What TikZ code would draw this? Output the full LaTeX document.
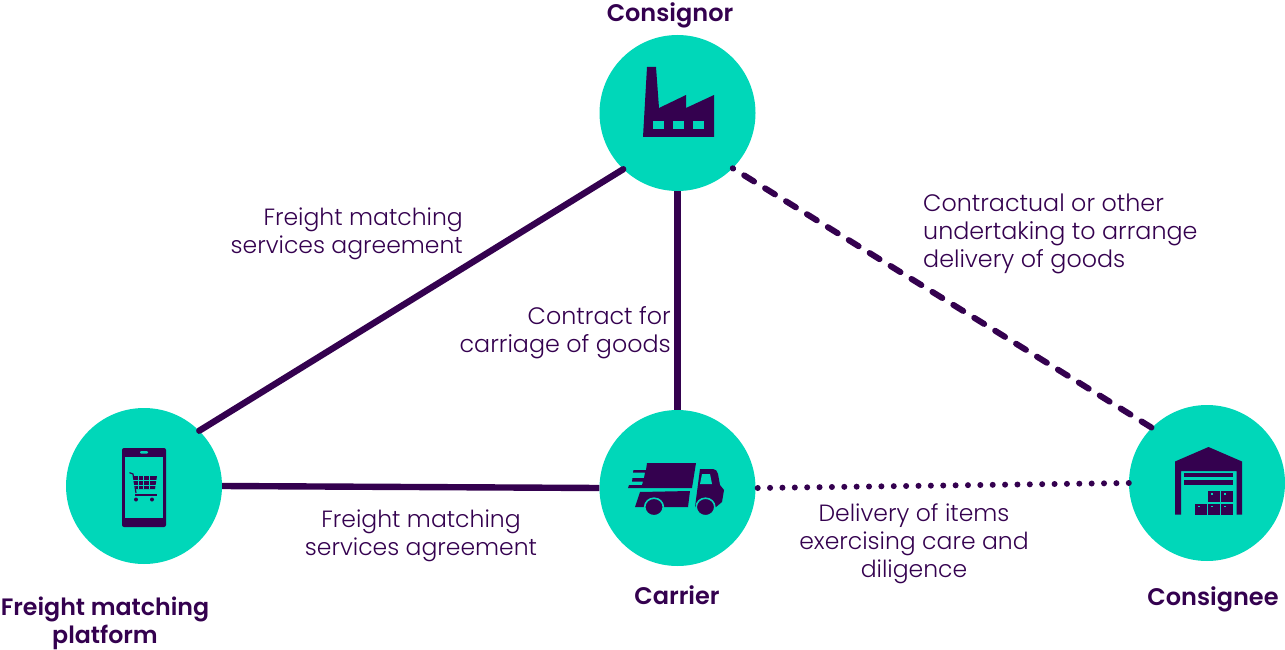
\documentclass[tikz,border=0pt]{standalone}
\usepackage{fontspec}
\setmainfont{Poppins}[UprightFont=* Light,BoldFont=* SemiBold]
\definecolor{teal}{HTML}{00D7B9}
\definecolor{ink}{HTML}{34014F}
\tikzset{
  hub/.style={circle,fill=teal,minimum size=156pt,inner sep=0pt},
  link/.style={draw=ink,line width=6.4pt,line cap=round},
  flatlink/.style={draw=ink,line width=6.4pt,line cap=butt},
  dashlink/.style={link,line width=6pt,dash pattern=on 11.6pt off 13pt,dash phase=11.2pt},
  dotlink/.style={link,line width=6pt,dash pattern=on 0pt off 12.37pt},
  lbl/.style={text=ink,font=\fontsize{23.5}{28}\selectfont,inner sep=0pt,align=center},
  lblwide/.style={lbl,font=\fontsize{23.8}{28}\selectfont},
  head/.style={text=ink,font=\fontsize{24}{28}\selectfont\bfseries,inner sep=0pt,align=center},
  cut/.style={fill=teal,draw=none},
  wheel/.style={fill=ink,draw=teal,line width=1.6pt}
}
\begin{document}
\begin{tikzpicture}[x=1pt,y=-1pt]
\useasboundingbox (0,0) rectangle (1285,650);
\node[hub] (cons) at (677.5,113) {};
\node[hub] (carr) at (677.5,488) {};
\node[hub] (plat) at (144,486) {};
\node[hub] (dest) at (1207,483) {};
\draw[link] (plat.45) -- (cons.226);
\draw[flatlink] (cons.south) -- (carr.north);
\draw[flatlink] (plat.east) -- (carr.west);
\draw[dashlink] (cons.-45) -- (dest.135);
\draw[dotlink] ([xshift=2pt]carr.east) -- (dest.west);
% factory
\fill[ink] (647,67) -- (656,67) -- (659,108) -- (686,95) -- (686,108) -- (714,95) -- (714,137) -- (643,137) -- cycle;
\foreach \x in {653,673,693} \fill[cut] (\x,121) rectangle ++(11,8);
% truck
\fill[ink] (647,463) -- (696,463) -- (692,488) -- (628,488) -- (629,485) -- (642,485) -- (643,481.5) -- (632,481.5) -- (632.5,478) -- (644,478) -- (645,472.5) -- (633,472.5) -- (633.5,470) -- (646,470) -- cycle;
\fill[ink] (640,492) -- (690,491) -- (688,507) -- (664,507) .. controls (662,495) and (650,495) .. (646,507) -- (635,507) -- cycle;
\fill[ink] (700,469) -- (713,469) .. controls (716,469) and (717,471) .. (718,474) -- (720,485) -- (724,490) -- (722,502) -- (716,507) -- (695,507) -- cycle;
\fill[cut] (702,474) -- (710,474) -- (712,484) -- (700,484) -- cycle;
\draw[wheel] (654,507) ellipse (9.3pt and 8.8pt);
\draw[wheel] (705.5,507) ellipse (9.3pt and 8.8pt);
% phone
\fill[ink,rounded corners=2pt] (122,448) rectangle (166,527);
\fill[cut] (125,457) rectangle (163,518);
\fill[cut,rounded corners=1pt] (140,451) rectangle (148,453.5);
\draw[ink,line width=1.2pt] (129.5,472.7) -- (133,474) -- (136,493);
\fill[ink] (133,476) -- (157,476) -- (155,489) -- (136,489) -- cycle;
\foreach \x in {138.5,143.5,149} \draw[teal,line width=.6pt] (\x,476) -- (\x,489);
\foreach \y in {480.5,485} \draw[teal,line width=.6pt] (133,\y) -- (157,\y);
\fill[ink] (135,493.5) rectangle (157,496);
\fill[ink] (136,499.5) circle (2pt) (152,499.5) circle (2pt);
% warehouse
\fill[ink] (1175,461.5) -- (1208.5,447) -- (1242,461.5) -- (1242,514.5) -- (1236.5,514.5) -- (1236.5,471) -- (1181,471) -- (1181,514.5) -- (1175,514.5) -- cycle;
\fill[ink] (1184,473) rectangle (1233,477);
\fill[ink] (1184,480) rectangle (1233,485);
\foreach \x/\y in {1208/491,1221/491,1195/503.5,1208/503.5,1221/503.5} {
  \fill[ink] (\x,\y) rectangle ++(12,11);
  \fill[teal] (\x+3,\y+2) rectangle ++(2,1.5);
}
% labels
\node[lbl,anchor=east,align=right] (t1) at (463,234) {Freight matching\\services agreement};
\node[lblwide,anchor=east,align=right] (t2) at (671,333) {Contract for\\carriage of goods};
\node[lblwide,anchor=west,align=left] (t3) at (923,234) {Contractual or other\\undertaking to arrange\\delivery of goods};
\node[lbl] (t4) at (421,536) {Freight matching\\services agreement};
\node[lbl] (t5) at (914,544) {Delivery of items\\exercising care and\\diligence};
\node[head] (h1) at (670,15) {Consignor};
\node[head] (h2) at (677,595) {Carrier};
\node[head,font=\fontsize{23.7}{28}\selectfont\bfseries] (h3) at (105,623) {Freight matching\\platform};
\node[head] (h4) at (1213,599) {Consignee};
\end{tikzpicture}
\end{document}
